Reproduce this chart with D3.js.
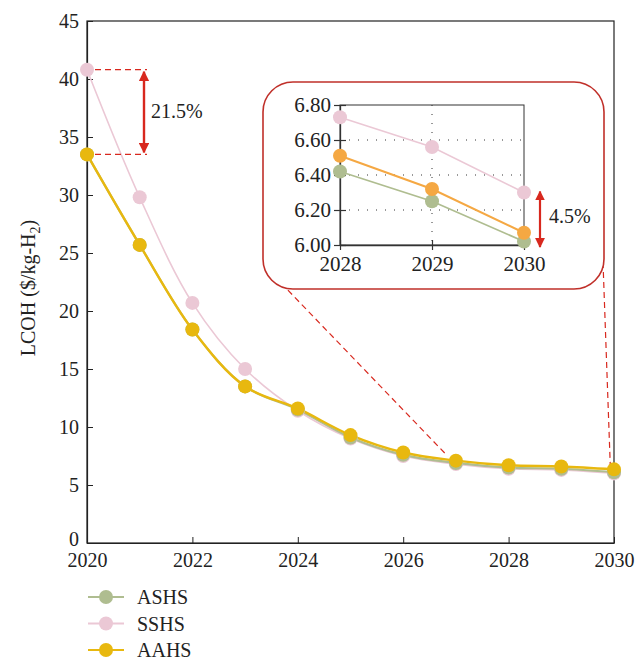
<!DOCTYPE html>
<html>
<head>
<meta charset="utf-8">
<script src="https://cdn.jsdelivr.net/npm/d3@7"></script>
<style>
  body { margin: 0; background: #fff; }
  text { font-family: "Liberation Serif", "DejaVu Serif", serif; fill: #222; }
</style>
</head>
<body>
<script>
// main chart data
const years = [2020, 2021, 2022, 2023, 2024, 2025, 2026, 2027, 2028, 2029, 2030]
const ashs = [33.5, 25.7, 18.4, 13.5, 11.5, 9.1, 7.6, 6.9, 6.5, 6.4, 6.1]
const sshs = [40.8, 29.8, 20.7, 15.0, 11.4, 9.0, 7.5, 6.8, 6.4, 6.3, 6.0]
const aahs = [33.5, 25.7, 18.4, 13.5, 11.6, 9.3, 7.8, 7.1, 6.7, 6.6, 6.35]
const y_ticks = [0, 5, 10, 15, 20, 25, 30, 35, 40, 45]
const x_ticks = [2020, 2022, 2024, 2026, 2028, 2030]

// inset (zoom on 2028-2030)
const inset_years = [2028, 2029, 2030]
const inset_ashs = [6.42, 6.25, 6.02]
const inset_sshs = [6.73, 6.56, 6.30]
const inset_aahs = [6.51, 6.32, 6.07]
const inset_y_ticks = [6.0, 6.2, 6.4, 6.6, 6.8]

const series_names = ['ASHS', 'SSHS', 'AAHS']
const colors = { ASHS: '#afbd90', SSHS: '#ebc8d5', AAHS: '#e8b80f' }
const inset_colors = { ASHS: '#afbd90', SSHS: '#ebc8d5', AAHS: '#f5a843' }
const red = '#d8281e'
const font_size = 20

const plot = { left: 87, right: 614, top: 21, bottom: 543 }

const svg = d3.select('body').append('svg')
  .attr('width', 636).attr('height', 661)

const defs = svg.append('defs')
defs.append('marker')
  .attr('id', 'arrow')
  .attr('viewBox', '0 0 10 10')
  .attr('refX', 9).attr('refY', 5)
  .attr('markerWidth', 4.5).attr('markerHeight', 4.5)
  .attr('markerUnits', 'strokeWidth')
  .attr('orient', 'auto-start-reverse')
  .append('path').attr('d', 'M0,0 L10,5 L0,10 z').attr('fill', red)

const x = d3.scaleLinear().domain([2020, 2030]).range([plot.left, plot.right])
const y = d3.scaleLinear().domain([0, 45]).range([plot.bottom, plot.top])

// frame
svg.append('rect')
  .attr('x', plot.left).attr('y', plot.top)
  .attr('width', plot.right - plot.left).attr('height', plot.bottom - plot.top)
  .attr('fill', 'none').attr('stroke', '#222').attr('stroke-width', 1.2)

const xAxis = svg.append('g')
  .attr('transform', `translate(0,${plot.bottom})`)
  .call(d3.axisBottom(x).tickValues(x_ticks).tickFormat(d3.format('d')).tickSizeInner(-6).tickSizeOuter(0).tickPadding(10))
const yAxis = svg.append('g')
  .attr('transform', `translate(${plot.left},0)`)
  .call(d3.axisLeft(y).tickValues(y_ticks).tickSizeInner(-6).tickSizeOuter(0).tickPadding(8))
for (const g of [xAxis, yAxis]) {
  g.select('.domain').attr('stroke', '#222').attr('stroke-width', 1.2)
  g.selectAll('.tick line').attr('stroke', '#222')
  g.selectAll('.tick text').attr('font-size', font_size).attr('font-family', '"Liberation Serif", serif').attr('fill', '#222')
}
// the zero label sits a touch higher so it clears the 2020 label
yAxis.selectAll('.tick text').filter(d => d === 0).attr('dy', '0.1em')

svg.append('text')
  .attr('transform', `translate(35,288) rotate(-90)`)
  .attr('text-anchor', 'middle')
  .attr('font-size', font_size)
  .html('LCOH ($/kg-H<tspan font-size="14" dy="5">2</tspan><tspan dy="-5">)</tspan>')

// zoom connector lines
svg.append('line')
  .attr('x1', 281).attr('y1', 283).attr('x2', x(2026.82)).attr('y2', y(7.6))
  .attr('stroke', red).attr('stroke-width', 1.2).attr('stroke-dasharray', '6,4')
svg.append('line')
  .attr('x1', 603).attr('y1', 262).attr('x2', x(2029.93)).attr('y2', y(6.6))
  .attr('stroke', red).attr('stroke-width', 1.2).attr('stroke-dasharray', '6,4')

// main series
const main_data = { ASHS: ashs, SSHS: sshs, AAHS: aahs }
const widths = { ASHS: 2.2, SSHS: 1.6, AAHS: 2.4 }
const line = d3.line().x(d => x(d[0])).y(d => y(d[1])).curve(d3.curveCatmullRom.alpha(0.5))
const draw_order = ['SSHS', 'ASHS', 'AAHS']
draw_order.forEach(name => {
  const pts = years.map((yr, i) => [yr, main_data[name][i]])
  svg.append('path').datum(pts)
    .attr('d', line)
    .attr('fill', 'none').attr('stroke', colors[name]).attr('stroke-width', widths[name])
})
draw_order.forEach(name => {
  const pts = years.map((yr, i) => [yr, main_data[name][i]])
  svg.selectAll('circle.' + name).data(pts).enter()
    .append('circle').attr('class', name)
    .attr('cx', d => x(d[0])).attr('cy', d => y(d[1])).attr('r', 7)
    .attr('fill', colors[name])
})

// 21.5% annotation
const ann_x = 147
svg.append('line')
  .attr('x1', x(2020) + 8).attr('y1', y(sshs[0])).attr('x2', ann_x).attr('y2', y(sshs[0]))
  .attr('stroke', red).attr('stroke-width', 1.2).attr('stroke-dasharray', '6,4')
svg.append('line')
  .attr('x1', x(2020) + 8).attr('y1', y(aahs[0])).attr('x2', ann_x).attr('y2', y(aahs[0]))
  .attr('stroke', red).attr('stroke-width', 1.2).attr('stroke-dasharray', '6,4')
svg.append('line')
  .attr('x1', ann_x - 3).attr('y1', y(sshs[0]) + 2).attr('x2', ann_x - 3).attr('y2', y(aahs[0]) - 2)
  .attr('stroke', red).attr('stroke-width', 2.4)
  .attr('marker-start', 'url(#arrow)').attr('marker-end', 'url(#arrow)')
svg.append('text')
  .attr('x', 151).attr('y', (y(sshs[0]) + y(aahs[0])) / 2 + 6)
  .attr('font-size', font_size).text('21.5%')

// inset
const box = { x: 263, y: 82, w: 341, h: 207 }
svg.append('rect')
  .attr('x', box.x).attr('y', box.y).attr('width', box.w).attr('height', box.h)
  .attr('rx', 30).attr('ry', 30)
  .attr('fill', '#fff').attr('stroke', '#c0302a').attr('stroke-width', 1.6)

const ix = d3.scaleLinear().domain([2028, 2030]).range([340, 524])
const iy = d3.scaleLinear().domain([6.0, 6.8]).range([245, 105])

const inset = svg.append('g')
inset.selectAll('line.hgrid').data([6.2, 6.4, 6.6]).enter()
  .append('line').attr('class', 'hgrid')
  .attr('x1', ix(2028)).attr('x2', ix(2030)).attr('y1', d => iy(d)).attr('y2', d => iy(d))
  .attr('stroke', '#333').attr('stroke-width', 1).attr('stroke-dasharray', '1,8')
inset.append('line')
  .attr('x1', ix(2029)).attr('x2', ix(2029)).attr('y1', iy(6.8)).attr('y2', iy(6.0))
  .attr('stroke', '#333').attr('stroke-width', 1).attr('stroke-dasharray', '1,8')
inset.append('rect')
  .attr('x', ix(2028)).attr('y', iy(6.8))
  .attr('width', ix(2030) - ix(2028)).attr('height', iy(6.0) - iy(6.8))
  .attr('fill', 'none').attr('stroke', '#333').attr('stroke-width', 1)

const ixAxis = inset.append('g')
  .attr('transform', `translate(0,${iy(6.0)})`)
  .call(d3.axisBottom(ix).tickValues(inset_years).tickFormat(d3.format('d')).tickSizeInner(5).tickSizeOuter(0).tickPadding(6))
const iyAxis = inset.append('g')
  .attr('transform', `translate(${ix(2028)},0)`)
  .call(d3.axisLeft(iy).tickValues(inset_y_ticks).tickFormat(d3.format('.2f')).tickSizeInner(6).tickSizeOuter(0).tickPadding(3))
for (const g of [ixAxis, iyAxis]) {
  g.select('.domain').attr('stroke', '#333').attr('stroke-width', 1.3)
  g.selectAll('.tick line').attr('stroke', '#333').attr('stroke-width', 1.2)
  g.selectAll('.tick text').attr('font-size', font_size + 1).attr('font-family', '"Liberation Serif", serif').attr('fill', '#222')
}
// ticks cross the inset axes
iyAxis.selectAll('.tick line').attr('x1', 6)
ixAxis.selectAll('.tick line').attr('y1', -5)

const inset_data = { ASHS: inset_ashs, SSHS: inset_sshs, AAHS: inset_aahs }
const inset_widths = { ASHS: 1.8, SSHS: 1.5, AAHS: 2 }
const iline = d3.line().x(d => ix(d[0])).y(d => iy(d[1]))
series_names.forEach(name => {
  const pts = inset_years.map((yr, i) => [yr, inset_data[name][i]])
  inset.append('path').datum(pts).attr('d', iline)
    .attr('fill', 'none').attr('stroke', inset_colors[name]).attr('stroke-width', inset_widths[name])
})
series_names.forEach(name => {
  const pts = inset_years.map((yr, i) => [yr, inset_data[name][i]])
  inset.selectAll('circle.i' + name).data(pts).enter()
    .append('circle').attr('class', 'i' + name)
    .attr('cx', d => ix(d[0])).attr('cy', d => iy(d[1])).attr('r', 7)
    .attr('fill', inset_colors[name])
})

// 4.5% annotation
inset.append('line')
  .attr('x1', 540).attr('x2', 540).attr('y1', iy(6.30) - 1).attr('y2', iy(6.0) + 2)
  .attr('stroke', red).attr('stroke-width', 2.2)
  .attr('marker-start', 'url(#arrow)').attr('marker-end', 'url(#arrow)')
inset.append('text')
  .attr('x', 549).attr('y', 223).attr('font-size', font_size).text('4.5%')

// legend
const legend = svg.append('g').attr('transform', 'translate(0,597)')
series_names.forEach((name, i) => {
  const g = legend.append('g').attr('transform', `translate(0,${i * 26.5})`)
  g.append('line').attr('x1', 88).attr('x2', 124).attr('y1', 0).attr('y2', 0)
    .attr('stroke', colors[name]).attr('stroke-width', 2)
  g.append('circle').attr('cx', 106).attr('cy', 0).attr('r', 7).attr('fill', colors[name])
  g.append('text').attr('x', 137).attr('y', 7).attr('font-size', font_size).text(name)
})
</script>
</body>
</html>
